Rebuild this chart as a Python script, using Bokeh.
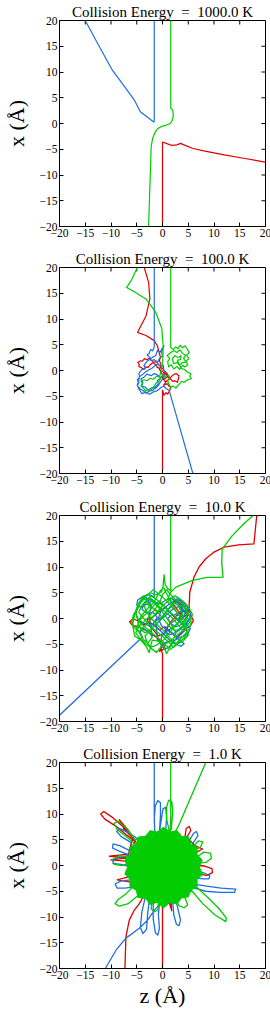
from bokeh.plotting import figure
from bokeh.layouts import column
from bokeh.models import LinearAxis, FixedTicker, Range1d
from bokeh.embed import file_html
from bokeh.resources import INLINE

# ---------------- data ----------------
ENERGIES = ["1000.0", "100.0", "10.0", "1.0"]
TICKS = [-20, -15, -10, -5, 0, 5, 10, 15, 20]
TICK_LABELS = ["\u221220", "\u221215", "\u221210", "\u22125", "0", "5", "10", "15", "20"]
Y_LABEL = "x (\u00c5)"
X_LABEL = "z (\u00c5)"
RED = "#e00000"
BLUE = "#1f6fde"
GREEN = "#00cc00"

# trajectories as (z, x) points in Angstrom
P1_RED = [(0.0, -20.0), (0.0, -3.6), (0.6, -3.8), (1.3, -4.1), (2.0, -4.25), (2.8, -4.15), (3.5, -3.85),
          (4.4, -4.25), (5.8, -4.8), (8.0, -5.3), (12.0, -6.1), (16.0, -6.8), (20.0, -7.5)]
P1_BLUE = [(-15.0, 20.0), (-12.3, 15.0), (-9.7, 10.3), (-7.4, 7.2), (-5.5, 4.6), (-4.3, 2.3), (-1.7, 0.3),
           (-1.6, 0.4), (-1.6, 20.0)]
P1_GREEN = [(1.6, 20.0), (1.6, 3.0), (2.0, 2.6), (2.1, 1.6), (1.9, 0.6), (1.5, 0.0), (0.8, -0.3), (0.0, -0.5),
            (-0.8, -0.9), (-1.4, -1.6), (-1.9, -2.8), (-2.2, -4.5), (-2.7, -20.0)]

P2_RED = [(0.0, -20.0), (0.0, -3.8), (0.3, -4.8), (0.7, -4.3), (1.0, -4.6), (1.4, -3.9), (1.6, -3.2), (1.2, -3.0),
          (1.0, -2.6), (0.5, -2.7), (0.2, -2.9), (0.6, -2.3), (0.9, -2.0), (1.4, -1.6), (1.9, -1.0), (2.3, -0.7),
          (2.7, -0.6), (3.0, -0.9), (3.2, -1.0), (3.1, -1.6), (2.9, -2.3), (2.4, -2.0), (2.0, -2.1), (1.5, -1.6),
          (1.2, -1.4), (0.8, -0.9), (0.4, -0.6), (0.0, -0.1), (-0.4, 0.0), (-0.7, 0.5), (-1.0, 0.6), (-1.3, 1.1),
          (-1.6, 1.3), (-1.9, 1.8), (-2.2, 2.0), (-2.6, 2.4), (-3.0, 2.1), (-3.5, 2.3), (-3.9, 1.8), (-4.2, 1.9),
          (-4.8, 1.6), (-4.5, 1.2), (-4.6, 0.8), (-4.0, 0.5), (-3.6, 0.2), (-3.2, 0.7), (-2.8, 0.6), (-2.4, 1.1),
          (-2.0, 1.4), (-1.6, 1.6), (-1.2, 1.8), (-0.9, 1.3), (-0.6, 1.0), (-0.2, 0.6), (0.2, 0.2), (0.5, -0.2),
          (0.9, -0.6), (1.2, -1.1), (1.4, -1.6), (1.0, -1.9), (0.6, -2.2), (0.2, -1.7), (-0.2, -1.2), (0.2, -0.8),
          (0.5, -0.3), (0.8, -0.8), (1.1, -1.1), (0.7, -1.4), (0.3, -1.7), (-0.1, -0.6), (-0.6, 0.2), (-0.3, 0.7),
          (-0.3, 1.2), (-0.6, 1.9), (-0.4, 2.6), (-1.0, 4.8), (-1.6, 5.8), (-3.2, 6.8), (-4.84, 7.4), (-4.5, 8.1),
          (-3.2, 10.6), (-2.45, 13.9), (-2.7, 17.1), (-3.55, 20.0)]
P2_BLUE = [(-1.6, 20.0), (-1.6, 4.6), (-1.9, 3.8), (-2.3, 4.1), (-2.6, 3.3), (-3.0, 3.0), (-2.4, 2.5), (-2.2, 1.9),
           (-1.6, 2.1), (-1.0, 1.6), (-0.6, 2.3), (0.0, 2.8), (-0.2, 3.6), (0.3, 4.8), (-0.1, 4.2), (-0.5, 3.5),
           (-1.0, 3.9), (-1.3, 2.9), (-1.9, 2.6), (-2.4, 2.2), (-3.0, 1.8), (-3.6, 1.0), (-3.3, 0.5), (-4.0, 0.2),
           (-4.6, -0.6), (-4.4, -1.2), (-4.9, -1.8), (-4.6, -2.4), (-4.9, -3.0), (-4.3, -3.6), (-3.8, -3.9),
           (-3.2, -4.4), (-2.6, -4.0), (-1.8, -3.8), (-1.3, -3.1), (-0.8, -2.6), (-1.0, -2.0), (-0.3, -1.4),
           (-0.9, -0.9), (-1.6, -0.6), (-2.2, -1.0), (-3.0, -0.7), (-3.6, -1.3), (-4.2, -1.6), (-3.8, -2.3),
           (-4.0, -3.0), (-3.4, -3.2), (-2.8, -3.8), (-2.0, -3.3), (-1.4, -3.5), (-0.8, -2.9), (-0.4, -2.2),
           (0.1, -1.6), (0.6, -0.6), (0.2, 0.2), (0.2, 1.0), (-0.4, 0.8), (-0.9, 1.3), (-1.5, 0.9), (-2.0, 0.5),
           (-2.7, 0.1), (-3.3, -0.3), (-3.9, -0.8), (-4.5, -1.2), (-4.6, -2.0), (-4.9, -2.8), (-4.6, -3.6),
           (-4.0, -4.5), (-3.3, -4.2), (-2.5, -4.6), (-1.9, -4.2), (-1.0, -3.9), (-0.4, -3.4), (0.2, -3.0),
           (0.7, -3.5), (1.3, -3.9), (5.9, -20.0)]
P2_GREEN = [(1.6, 20.0), (1.6, 4.5), (2.1, 4.1), (2.6, 4.6), (3.0, 4.2), (3.4, 4.9), (3.9, 4.4), (4.4, 4.8),
            (4.84, 4.1), (5.2, 3.5), (4.7, 3.0), (5.1, 2.3), (4.6, 1.8), (4.9, 1.1), (4.3, 0.7), (3.9, 1.0),
            (3.3, 0.2), (2.8, 0.8), (2.2, 0.3), (1.7, 1.1), (1.2, 0.7), (1.0, 1.7), (1.4, 2.3), (0.9, 2.9),
            (1.5, 3.4), (2.2, 3.9), (2.8, 3.5), (3.4, 4.0), (3.9, 3.3), (4.5, 3.0), (4.1, 2.4), (4.5, 1.6),
            (3.8, 1.5), (3.3, 1.0), (2.8, 1.6), (2.2, 1.3), (1.9, 2.2), (2.4, 2.9), (3.0, 2.5), (3.6, 2.9),
            (3.5, 2.1), (2.9, 2.0), (3.6, 0.4), (4.3, 0.2), (4.8, -0.3), (5.5, -0.6), (5.3, -1.1), (5.6, -1.6),
            (4.9, -1.8), (4.2, -2.3), (3.7, -2.1), (3.2, -2.7), (2.6, -3.4), (2.0, -3.0), (1.6, -3.3), (1.2, -2.6),
            (1.0, -2.0), (1.4, -1.4), (1.1, -0.9), (0.4, -1.2), (0.0, -0.97), (-0.4, -1.6), (-0.65, -2.1),
            (-1.2, -2.4), (-1.6, -3.0), (-2.0, -3.5), (-2.4, -3.9), (-2.9, -3.7), (-3.3, -4.0), (-3.7, -3.4),
            (-4.2, -3.0), (-3.9, -2.5), (-4.2, -2.1), (-3.6, -1.8), (-3.0, -2.0), (-2.4, -1.5), (-1.8, -1.7),
            (-1.1, -1.1), (-0.6, -1.3), (-0.3, -0.3), (0.0, 1.5), (0.1, 2.9), (0.13, 4.8), (-0.13, 8.1),
            (-1.3, 11.3), (-3.2, 13.9), (-5.8, 15.5), (-6.97, 16.1), (-6.0, 17.6), (-5.03, 19.7), (-4.95, 20.0)]

P3_RED = [(0.0, -20.0), (0.0, -6.9), (-0.3, -5.6), (0.2, -4.8), (-0.6, -6.4), (0.5, -5.8), (0.0, -4.6),
          (-1.0, -3.8), (-2.2, -3.0), (-3.4, -2.2), (-4.6, -1.6), (-5.8, -1.4), (-6.4, -0.6), (-5.6, -0.1),
          (-4.4, -0.6), (-3.6, -1.2), (-2.6, -0.6), (-1.6, -1.4), (-0.6, -2.2), (0.4, -1.6), (1.4, -2.4),
          (2.2, -3.2), (3.0, -3.6), (3.8, -2.8), (4.6, -2.0), (5.4, -1.4), (6.0, -0.4), (5.6, 0.4), (4.8, 0.8),
          (4.0, 0.2), (3.2, 1.2), (2.4, 2.4), (1.6, 3.2), (2.6, 3.4), (3.8, 2.6), (3.2, -0.6), (1.8, 0.8),
          (0.6, 2.2), (-0.8, 1.2), (-2.0, 0.2), (-3.0, -0.2), (-1.8, -2.2), (-0.8, -3.4), (0.4, -2.8),
          (1.6, -0.6), (2.8, 0.6), (4.2, 1.4), (4.8, 1.8), (5.2, 1.2), (5.17, 2.5), (5.3, 5.1), (6.1, 8.0),
          (7.1, 10.0), (8.4, 11.6), (10.0, 12.9), (11.95, 13.85), (14.8, 14.3), (17.75, 14.5), (18.0, 17.0),
          (18.3, 20.0)]
P3_BLUE = [(-1.6, 20.0), (-1.6, 4.1), (-2.4, 4.6), (-3.6, 4.4), (-4.8, 3.6), (-5.0, 2.6), (-4.2, 2.2), (-3.0, 2.8),
           (-2.0, 3.4), (-1.2, 2.6), (-0.2, 1.6), (0.8, 2.4), (1.8, 3.2), (2.8, 3.8), (3.8, 3.4), (4.6, 2.6),
           (5.2, 1.6), (5.6, 0.4), (5.0, -0.6), (4.2, -1.2), (3.4, -0.8), (2.6, 0.2), (1.8, 0.8), (1.0, 0.0),
           (1.6, -1.0), (2.6, -1.6), (3.6, -1.2), (4.4, -0.2), (4.8, 0.8), (4.2, 1.6), (3.2, 1.2), (2.2, 0.6),
           (1.2, 1.4), (0.4, 2.2), (-0.4, 1.2), (-0.8, 0.0), (-0.2, -1.4), (0.8, -2.2), (1.8, -2.8), (2.6, -3.6),
           (3.4, -4.2), (4.2, -4.9), (3.6, -5.4), (2.6, -5.0), (1.4, -4.4), (0.2, -4.8), (-1.0, -4.2),
           (-1.2, -1.0), (0.6, 0.6), (2.0, 1.8), (3.2, 2.4), (4.0, 1.6), (3.6, 0.4), (2.4, -0.4), (1.2, -1.2),
           (0.4, -2.4), (1.4, -3.2), (2.8, -2.6), (3.8, -1.8), (4.6, -1.0), (5.4, -2.0), (4.8, -3.2),
           (3.6, -3.6), (2.4, -4.2), (1.2, -5.6), (0.4, -6.0), (-0.4, -5.0), (-0.2, -3.6), (0.6, -2.6),
           (2.2, -1.6), (3.8, -0.2), (4.4, 1.0), (3.8, 2.2), (2.8, 3.2), (1.6, 4.0), (0.4, 3.4), (-0.8, 2.8),
           (-2.2, 3.8), (-3.4, 3.2), (-4.0, 1.8), (-3.0, 1.0), (-1.8, 1.2), (-1.0, 0.2), (-1.8, -1.0),
           (-0.6, -2.2), (0.8, -3.6), (2.0, -4.8), (3.2, -3.2), (4.4, -2.2), (5.0, -0.2), (4.4, 2.4),
           (3.2, 3.6), (2.0, 2.6), (1.0, 1.6), (0.0, 0.4), (-1.2, -0.4), (-2.4, -1.6), (-3.4, -1.0),
           (-4.6, -0.4), (-5.2, 1.0), (-4.4, 3.0), (-3.2, 4.2), (-2.2, 2.6), (-2.6, 0.4), (-2.0, -3.4),
           (-2.8, -2.6), (-3.6, -2.0), (-4.4, -2.6), (-3.9, -3.6), (-20.0, -18.8)]
P3_GREEN = [(1.6, 20.0), (1.6, 5.4), (1.0, 5.8), (0.5, 6.6), (0.3, 8.5), (0.1, 6.2), (-0.2, 5.2), (-1.2, 4.6),
            (-2.4, 5.0), (-3.4, 4.4), (-4.2, 3.2), (-4.8, 2.0), (-5.6, 0.8), (-6.0, -0.6), (-5.4, -1.8),
            (-4.6, -2.6), (-3.6, -1.6), (-2.6, -0.6), (-1.6, 0.6), (-0.6, 1.8), (0.4, 2.8), (1.4, 3.6),
            (2.4, 4.4), (3.4, 3.8), (4.4, 3.0), (5.2, 2.0), (5.8, 0.8), (5.4, -0.6), (4.6, -1.6), (3.6, -2.6),
            (2.6, -3.4), (1.8, -4.2), (0.8, -4.8), (-0.2, -5.4), (-1.2, -6.6), (-2.2, -5.8), (-3.0, -4.6),
            (-3.4, -3.4), (-2.6, -2.6), (-2.0, -3.6), (-2.8, -4.8), (-3.6, -4.2), (-4.4, -3.0), (-5.0, -1.8),
            (-4.6, -0.6), (-3.6, 0.6), (-2.6, 1.4), (-1.6, 2.6), (-0.6, 3.4), (0.4, 2.4), (1.2, 1.4),
            (2.2, 0.6), (3.2, -0.4), (4.2, -1.4), (4.8, -2.6), (4.2, -3.8), (3.2, -4.6), (2.2, -5.6),
            (1.2, -4.6), (0.2, -3.6), (-0.8, -2.8), (-1.8, -2.0), (-2.8, -1.0), (-3.8, 0.2), (-4.6, 1.2),
            (-4.0, 2.6), (-3.0, 3.2), (-2.0, 2.2), (-1.0, 1.2), (0.0, 2.4), (-1.0, 3.6), (-2.2, 4.4),
            (-3.2, 3.6), (-2.6, 2.4), (-1.4, 1.8), (-0.4, 0.6), (0.6, -0.6), (1.6, -1.8), (2.6, -2.4),
            (3.6, -1.8), (4.4, -0.8), (4.0, 0.4), (3.0, 1.0), (2.0, 2.0), (1.2, 3.0), (0.2, 4.0), (-0.8, 4.8),
            (-1.8, 5.6), (-2.6, 4.8), (-3.8, 4.2), (-4.6, 3.0), (-5.2, 1.6), (-5.0, 0.2), (-4.2, -1.0),
            (-3.0, -2.0), (-1.8, -3.0), (-0.6, -4.0), (0.6, -5.2), (1.6, -6.0), (2.4, -5.2), (3.4, -4.0),
            (4.4, -3.0), (5.2, -2.0), (5.6, -0.8), (5.2, 0.6), (4.6, 2.0), (3.6, 3.0), (2.6, 3.6), (1.6, 4.6),
            (0.8, 5.6), (0.0, 4.6), (-0.6, 3.0), (-1.6, 1.6), (-2.6, 0.4), (-3.6, -0.6), (-4.6, -1.6),
            (-5.2, -2.8), (-4.4, -3.8), (-3.4, -4.8), (-2.4, -5.6), (-1.2, -5.2), (0.0, -4.4), (1.0, -3.2),
            (2.0, -2.0), (3.0, -0.8), (4.0, 0.6), (3.0, 2.6), (2.2, 3.2), (1.4, 2.2), (0.6, 1.0), (-0.4, -0.2),
            (-1.4, -1.2), (-2.4, -2.2), (-3.4, -2.8), (-4.2, -2.0), (-4.8, -0.8), (-4.2, 0.4), (-3.2, 1.6),
            (-2.0, 2.8), (-1.2, 4.0), (-0.4, 5.4), (0.2, 6.0), (0.8, 4.8), (1.6, 3.4), (2.4, 1.8), (3.4, 0.2),
            (4.4, -1.6), (5.0, -3.2), (4.0, -4.4), (2.8, -5.0), (1.6, -4.0), (0.4, -2.6), (-0.8, -1.4),
            (-2.0, -0.2), (-3.0, 1.2), (-3.8, 2.8), (-2.8, 3.8), (-1.6, 3.2), (-0.6, 2.0), (0.6, 0.4),
            (1.6, -1.0), (2.6, -2.8), (1.8, -5.0), (0.8, -6.8), (0.2, -5.4), (-0.8, -4.4), (-2.0, -4.2),
            (-2.6, -6.6), (-3.2, -5.4), (-4.2, -4.2), (-5.4, -3.4), (-5.8, -1.2), (-5.4, 0.8), (-4.8, 2.6),
            (-3.8, 3.6), (-2.4, 4.0), (-1.0, 2.6), (0.4, 1.4), (1.8, 0.2), (3.0, -1.2), (4.0, -2.4),
            (4.6, -0.4), (4.8, 1.2), (4.0, 2.4), (3.0, 2.6), (1.0, 3.8), (1.6, 5.1), (2.6, 6.1), (5.8, 7.4),
            (8.7, 8.0), (11.75, 8.0), (11.5, 10.9), (11.6, 13.5), (13.55, 16.1), (16.0, 18.6), (17.6, 20.0)]

P4_RED = [(-7.3, -20.0), (-7.1, -13.8), (-6.45, -10.6), (-5.5, -8.7), (-4.5, -7.4), (-3.8, -6.2), (-5.5, 5.2),
          (-7.5, 7.4), (-9.8, 9.4), (-11.4, 10.5), (-12.0, 10.0), (-11.2, 9.0), (-9.0, 7.6), (-6.8, 5.8),
          (-5.2, 4.6), (-6.6, 6.8), (-8.4, 8.9), (-7.0, 6.6), (-8.0, 8.0), (-6.2, 6.2), (-7.6, 7.2), (-5.8, 5.4),
          (-6.6, 2.2), (-10.3, 1.8), (-6.8, 1.5), (-10.0, 1.1), (-6.6, 0.8), (-6.6, -2.2), (-8.8, -2.8),
          (-6.4, -3.2), (6.6, 0.0), (8.2, -0.1), (9.6, -0.6), (9.7, -1.4), (8.6, -1.9), (6.6, -1.6), (6.6, 2.6),
          (7.8, 3.2), (6.4, 3.8), (4.4, 5.8), (4.6, 7.2), (5.2, 7.6), (5.5, 6.8), (4.8, 5.6), (1.6, -6.6),
          (1.8, -8.8), (1.2, -6.8), (0.2, -6.8), (0.0, -8.0), (0.0, -20.0)]
P4_BLUE = [(-1.6, 20.0), (-1.6, 10.0), (-1.5, 6.2), (-1.6, 9.0), (-1.4, 11.6), (-0.9, 12.6), (-0.4, 12.2),
           (-0.4, 9.6), (-0.6, 6.4), (-0.2, 9.2), (0.1, 11.0), (0.6, 11.3), (0.8, 9.4), (0.6, 6.4), (-4.6, 5.0),
           (-6.6, 6.4), (-8.4, 7.2), (-8.9, 6.6), (-8.0, 5.6), (-6.0, 4.4), (-6.2, 2.8), (-8.2, 3.8),
           (-9.6, 4.2), (-9.7, 3.4), (-8.4, 2.8), (-6.4, 2.0), (-8.2, 1.6), (-9.6, 1.2), (-9.6, 0.4),
           (-8.0, 0.2), (-6.4, -0.2), (-6.2, -2.8), (-8.0, -3.0), (-9.2, -3.6), (-8.8, -4.4), (-7.4, -4.4),
           (-5.6, -4.2), (-3.4, -6.4), (-4.0, -9.0), (-4.3, -12.0), (-3.8, -13.2), (-3.1, -12.4), (-2.9, -9.6),
           (-2.6, -7.0), (-1.8, -7.4), (-1.8, -10.4), (-1.4, -13.0), (-0.9, -13.5), (-0.6, -12.2),
           (-0.8, -9.6), (-0.6, -7.4), (2.0, -7.2), (2.2, -9.6), (2.7, -11.4), (3.2, -11.7), (3.5, -10.6),
           (3.0, -8.4), (2.6, -6.8), (6.0, -3.6), (8.6, -4.0), (11.4, -4.4), (14.2, -4.6), (14.0, -5.2),
           (11.2, -5.2), (8.4, -5.0), (6.2, -4.4), (6.8, -1.2), (8.2, -1.5), (9.2, -2.0), (9.0, -2.6),
           (7.8, -2.6), (6.6, -2.4), (5.2, 4.8), (6.0, 6.2), (6.6, 6.6), (6.9, 5.8), (6.2, 4.8), (0.6, -6.2),
           (-1.6, -8.7), (-2.9, -10.6), (-4.5, -12.2), (-7.1, -14.1), (-9.0, -16.4), (-11.1, -20.0)]
P4_GREEN = [(1.6, 20.0), (1.6, 9.5), (1.5, 6.0), (0.8, 9.0), (0.8, 11.4), (1.2, 12.7), (1.8, 12.4), (2.0, 10.6),
            (1.7, 7.0), (-5.4, 5.0), (-7.0, 7.2), (-8.6, 8.6), (-9.4, 8.2), (-8.8, 7.0), (-7.0, 5.6), (-5.6, 4.4),
            (-6.4, 1.6), (-8.4, 1.9), (-9.6, 1.2), (-9.4, 0.2), (-8.0, 0.0), (-6.4, 0.4), (-5.6, -4.0),
            (-7.2, -5.6), (-8.6, -6.6), (-9.2, -7.4), (-8.4, -7.9), (-6.6, -7.4), (-5.0, -6.0), (-2.0, -6.6),
            (-2.2, -8.4), (-1.6, -9.0), (-0.9, -8.6), (-0.8, -7.0), (2.6, -6.6), (3.2, -7.8), (4.2, -8.2),
            (4.9, -7.6), (4.4, -6.4), (5.6, -4.8), (7.8, -7.4), (10.2, -9.6), (12.3, -10.9), (12.4, -10.2),
            (11.0, -8.4), (8.8, -6.2), (6.4, -4.0), (6.4, 1.4), (8.0, 2.6), (9.3, 2.4), (9.5, 1.4), (8.4, 0.6),
            (6.6, 0.4), (5.6, 3.4), (7.0, 4.8), (7.8, 4.6), (7.4, 3.6), (6.0, 2.8), (2.2, 6.0), (3.2, 7.9),
            (8.4, 20.0)]
# outline of the densely filled core of the 1 K trajectory
P4_CORE = [(7.1, -0.3), (7.69, 1.02), (6.69, 2.06), (6.7, 3.45), (5.49, 4.14), (5.09, 5.52), (3.65, 5.68),
           (2.77, 6.75), (1.4, 6.5), (0.2, 7.4), (-1.0, 6.5), (-2.37, 6.75), (-3.25, 5.68), (-4.69, 5.52),
           (-5.09, 4.14), (-6.3, 3.45), (-6.29, 2.06), (-7.29, 1.02), (-6.7, -0.3), (-7.29, -1.62),
           (-6.29, -2.66), (-6.3, -4.05), (-5.09, -4.74), (-4.75, -6.2), (-3.25, -6.28), (-2.43, -7.54),
           (-1.0, -7.1), (0.2, -8.2), (1.4, -7.1), (2.8, -7.44), (3.65, -6.28), (5.02, -6.05), (5.49, -4.74),
           (6.7, -4.05), (6.69, -2.66), (7.78, -1.64)]

PANELS = [
    (P1_RED, P1_BLUE, P1_GREEN, None),
    (P2_RED, P2_BLUE, P2_GREEN, None),
    (P3_RED, P3_BLUE, P3_GREEN, None),
    (P4_RED, P4_BLUE, P4_GREEN, P4_CORE),
]

SERIF = "Liberation Serif"
FW = 206
FH = 206
TICK_LEN = 4
BOTTOM_BORDERS = [21, 22, 21, 42]


def style_axis(ax):
    ax.ticker = FixedTicker(ticks=TICKS)
    ax.major_label_overrides = {t: s for t, s in zip(TICKS, TICK_LABELS)}
    ax.major_tick_in = TICK_LEN
    ax.major_tick_out = 0
    ax.minor_tick_line_color = None
    ax.axis_line_color = "black"
    ax.major_tick_line_color = "black"
    ax.major_label_text_font = SERIF
    ax.major_label_text_color = "black"
    ax.major_label_text_font_size = "11.5px"
    ax.major_label_standoff = 2
    ax.axis_label_text_font = SERIF
    ax.axis_label_text_font_size = "22px"
    ax.axis_label_text_font_style = "normal"
    ax.axis_label_text_color = "black"
    ax.axis_label_standoff = 1


def xs(pts):
    return [a for a, b in pts]


def ys(pts):
    return [b for a, b in pts]


figs = []
for i, (energy, data) in enumerate(zip(ENERGIES, PANELS)):
    last = i == len(ENERGIES) - 1
    p = figure(frame_width=FW, frame_height=FH, x_range=Range1d(-20, 20), y_range=Range1d(-20, 20),
               x_axis_type=None, y_axis_type=None, output_backend="svg", toolbar_location=None,
               min_border_left=56, min_border_right=8, min_border_top=12,
               min_border_bottom=BOTTOM_BORDERS[i],
               background_fill_color="white", border_fill_color="white",
               title=f"Collision Energy \u00a0=\u00a0 {energy} K")
    p.title.align = "center"
    p.title.text_font = SERIF
    p.title.text_font_size = "15px"
    p.title.text_font_style = "normal"
    p.title.text_color = "black"
    p.title.standoff = 2
    p.xgrid.visible = False
    p.ygrid.visible = False
    p.outline_line_color = "black"
    p.outline_line_width = 1

    yax = LinearAxis(axis_label=Y_LABEL)
    style_axis(yax)
    yax.axis_label_standoff = 8
    p.add_layout(yax, "left")
    xax = LinearAxis(axis_label=X_LABEL if last else None)
    style_axis(xax)
    p.add_layout(xax, "below")

    # inward tick marks on the top and right edges (from the same tick list)
    dy = TICK_LEN * 40.0 / FH
    dx = TICK_LEN * 40.0 / FW
    p.segment(x0=TICKS, y0=[20] * len(TICKS), x1=TICKS, y1=[20 - dy] * len(TICKS),
              line_color="black", line_width=1)
    p.segment(x0=[20] * len(TICKS), y0=TICKS, x1=[20 - dx] * len(TICKS), y1=TICKS,
              line_color="black", line_width=1)

    red, blue, green, core = data
    lw = 1.3 if i >= 2 else 1.2
    p.line(xs(red), ys(red), line_color=RED, line_width=lw, line_join="round")
    p.line(xs(blue), ys(blue), line_color=BLUE, line_width=lw, line_join="round")
    if core is not None:
        p.patch(xs(core), ys(core), fill_color=GREEN, line_color=GREEN, line_width=1.2)
    p.line(xs(green), ys(green), line_color=GREEN, line_width=lw, line_join="round")
    figs.append(p)

layout = column(*figs, spacing=0)
open("out.html", "w").write(file_html(layout, INLINE))
